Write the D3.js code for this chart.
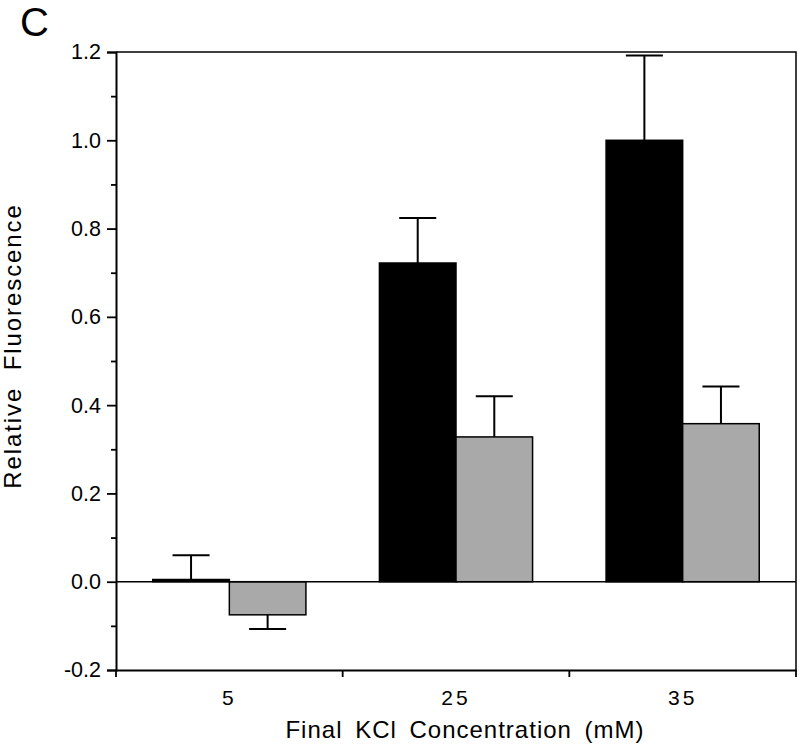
<!DOCTYPE html>
<html><head><meta charset="utf-8">
<script src="https://cdn.jsdelivr.net/npm/d3@7"></script>
<style>
html,body{margin:0;padding:0;background:#fff;}
text{font-family:"Liberation Sans",Arial,Helvetica,sans-serif;fill:#000;}
</style></head>
<body>
<svg id="chart" width="800" height="752"></svg>
<script>
const categories = ["5", "25", "35"];
const seriesNames = ["black", "grey"];
const blackValues = [0.005, 0.722, 1.0];
const blackErrors = [0.055, 0.102, 0.192];
const greyValues = [-0.075, 0.328, 0.358];
const greyErrors = [0.032, 0.092, 0.084];
const yTicks = [-0.2, 0.0, 0.2, 0.4, 0.6, 0.8, 1.0, 1.2];
const yMinorTicks = [-0.1, 0.1, 0.3, 0.5, 0.7, 0.9, 1.1];

const fills = {black: "#000000", grey: "#a9a9a9"};
const svg = d3.select("#chart");
const L = 116, R = 796, T = 52, B = 670;

const x0 = d3.scaleBand().domain(categories).range([L, R]).padding(0);
const x1 = d3.scaleBand().domain(seriesNames).range([0, x0.bandwidth()]).paddingInner(0).paddingOuter(0.48);
const y = d3.scaleLinear().domain([-0.2, 1.2]).range([B, T]);

const data = [];
categories.forEach((c, i) => {
  data.push({cat: c, s: "black", v: blackValues[i], e: blackErrors[i]});
  data.push({cat: c, s: "grey", v: greyValues[i], e: greyErrors[i]});
});

const capW = 37;
const eb = svg.append("g").attr("stroke", "#000").attr("stroke-width", 2);
data.forEach(d => {
  const cx = x0(d.cat) + x1(d.s) + x1.bandwidth() / 2;
  const end = d.v >= 0 ? d.v + d.e : d.v - d.e;
  eb.append("line").attr("x1", cx).attr("x2", cx).attr("y1", y(d.v)).attr("y2", y(end));
  eb.append("line").attr("x1", cx - capW / 2).attr("x2", cx + capW / 2).attr("y1", y(end)).attr("y2", y(end));
});

svg.append("g").selectAll("rect").data(data).join("rect")
  .attr("x", d => x0(d.cat) + x1(d.s))
  .attr("width", x1.bandwidth())
  .attr("y", d => y(Math.max(0, d.v)))
  .attr("height", d => Math.max(1.5, Math.abs(y(d.v) - y(0))))
  .attr("fill", d => fills[d.s])
  .attr("stroke", "#000").attr("stroke-width", 1.5);

svg.append("line").attr("x1", L).attr("x2", R).attr("y1", y(0)).attr("y2", y(0))
  .attr("stroke", "#000").attr("stroke-width", 1.6);

svg.append("path").attr("d", `M${L},${T}H${R}V${B}`).attr("fill", "none")
  .attr("stroke", "#000").attr("stroke-width", 1.5);

const fmt = d => d3.format(".1f")(d).replace("\u2212", "-");
const yAxis = d3.axisLeft(y).tickValues(yTicks).tickFormat(fmt).tickSize(9).tickPadding(6);
const gy = svg.append("g").attr("transform", `translate(${L},0)`).call(yAxis);
gy.select(".domain").attr("stroke-width", 2);
gy.selectAll(".tick line").attr("stroke-width", 1.8);
gy.selectAll(".tick text").style("font-size", "21.5px").attr("font-family", null);
const yMinor = d3.axisLeft(y).tickValues(yMinorTicks).tickSize(5).tickFormat("");
const gym = svg.append("g").attr("transform", `translate(${L},0)`).call(yMinor);
gym.select(".domain").remove();
gym.selectAll(".tick line").attr("stroke-width", 1.8);

const xAxis = d3.axisBottom(x0).tickSize(0).tickPadding(20);
const gx = svg.append("g").attr("transform", `translate(0,${B})`).call(xAxis);
gx.select(".domain").attr("stroke-width", 2);
gx.selectAll(".tick text").style("font-size", "21px").style("letter-spacing", "3px").attr("font-family", null);
const bounds = categories.map(c => x0(c)).concat([R]);
gx.selectAll(".bound").data(bounds).join("line").attr("class", "bound")
  .attr("x1", d => d).attr("x2", d => d).attr("y1", 0).attr("y2", 7)
  .attr("stroke", "#000").attr("stroke-width", 1.8);

svg.append("text").attr("x", 465).attr("y", 738).attr("text-anchor", "middle")
  .style("font-size", "24px").style("letter-spacing", "1px").style("word-spacing", "5px")
  .text("Final KCl Concentration (mM)");
svg.append("text").attr("transform", "translate(21,346) rotate(-90)").attr("text-anchor", "middle")
  .style("font-size", "24px").style("letter-spacing", "1.9px").style("word-spacing", "8px")
  .text("Relative Fluorescence");

svg.append("text").attr("x", 20).attr("y", 36).style("font-size", "40px").text("C");
</script>
</body></html>
